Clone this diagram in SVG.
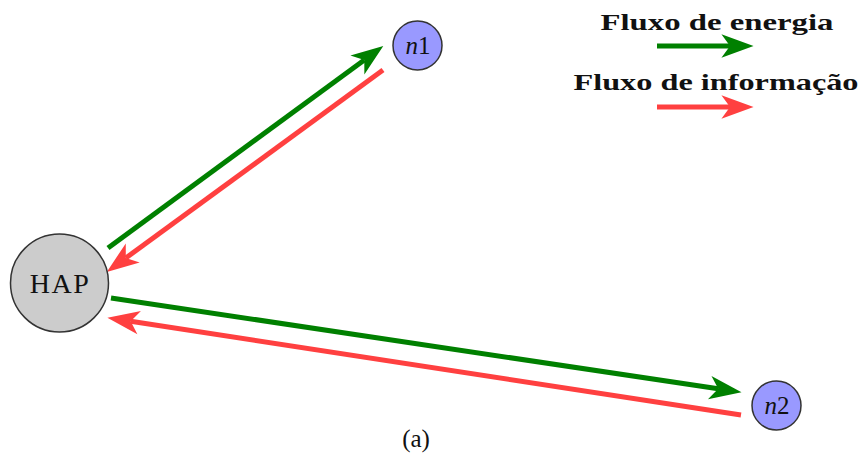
<svg xmlns="http://www.w3.org/2000/svg" width="866" height="461" viewBox="0 0 866 461">
<defs>
<marker id="ag" markerUnits="userSpaceOnUse" markerWidth="40" markerHeight="30" viewBox="-2 -14 36 28" refX="8" refY="0" orient="auto" overflow="visible">
<path d="M0,-11 L30,0 L0,11 L8,0 Z" fill="#008000"/>
</marker>
<marker id="ar" markerUnits="userSpaceOnUse" markerWidth="40" markerHeight="30" viewBox="-2 -14 36 28" refX="8" refY="0" orient="auto" overflow="visible">
<path d="M0,-11 L30,0 L0,11 L8,0 Z" fill="#ff4040"/>
</marker>
</defs>
<style>
.g{stroke:#008000;stroke-width:5;fill:none;marker-end:url(#ag)}
.r{stroke:#ff4040;stroke-width:5;fill:none;marker-end:url(#ar)}
.node{stroke:#333;stroke-width:1.5}
.lbl{font-family:"Liberation Serif","DejaVu Serif",serif;fill:#111;text-anchor:middle}
.leg{font-family:"Liberation Serif","DejaVu Serif",serif;font-weight:bold;fill:#111;text-anchor:middle;font-size:23px}
</style>
<g id="connectors">
<path class="g" d="M108,248 L364.3,60"/>
<path class="r" d="M383,70 L125.8,258"/>
<path class="g" d="M111,298 L718.2,388.8"/>
<path class="r" d="M741,415 L130.7,321.3"/>
</g>
<g id="HAP">
<circle class="node" cx="59.5" cy="283" r="49" fill="#cccccc"/>
<text class="lbl" x="60" y="293" font-size="28" letter-spacing="1.5">HAP</text>
</g>
<g id="n1">
<circle class="node" cx="417.5" cy="45.5" r="24.5" fill="#9999ff"/>
<text class="lbl" x="418" y="54" font-size="25"><tspan font-style="italic">n</tspan>1</text>
</g>
<g id="n2">
<circle class="node" cx="776.5" cy="405.5" r="24.5" fill="#9999ff"/>
<text class="lbl" x="777" y="414" font-size="25"><tspan font-style="italic">n</tspan>2</text>
</g>
<g id="legend">
<text class="leg" x="717" y="30" textLength="233" lengthAdjust="spacingAndGlyphs">Fluxo de energia</text>
<path class="g" d="M657,46 L730,46"/>
<text class="leg" x="716" y="90" textLength="285" lengthAdjust="spacingAndGlyphs">Fluxo de informação</text>
<path class="r" d="M657,107 L730,107"/>
</g>
<text class="lbl" x="416" y="447" font-size="25">(a)</text>
</svg>
